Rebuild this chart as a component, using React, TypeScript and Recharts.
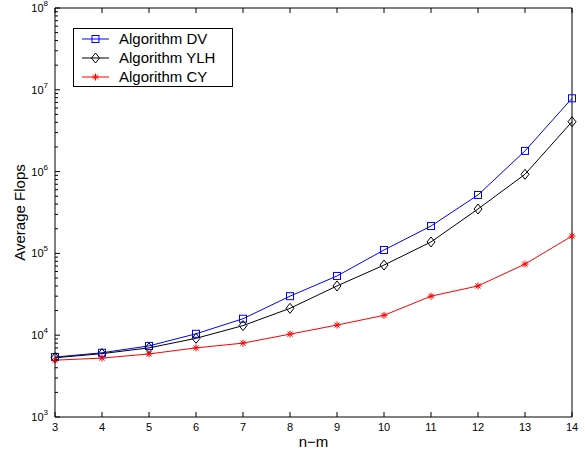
import { Legend, Line, LineChart, XAxis, YAxis } from "recharts";

const FONT = '"Liberation Sans", Arial, Helvetica, sans-serif';

// n-m on the x axis
const nm = [3, 4, 5, 6, 7, 8, 9, 10, 11, 12, 13, 14];
// average flops
const dvFlops = [5400, 6100, 7400, 10400, 15900, 30000, 53000, 110000, 216000, 518000, 1790000, 7870000];
const ylhFlops = [5300, 5950, 7000, 9160, 13100, 21300, 40000, 72000, 138000, 349000, 927000, 4070000];
const cyFlops = [4950, 5250, 5900, 7000, 8000, 10300, 13300, 17500, 30000, 40000, 74000, 163000];

const xTicks = nm;
const decades = [3, 4, 5, 6, 7, 8];
const minorSteps = [1, 2, 3, 4, 5, 6, 7, 8, 9];
const yTicks = decades.flatMap((d) => (d === 8 ? [1e8] : minorSteps.map((m) => m * Math.pow(10, d))));

const rows = nm.map((n, i) => ({ nm: n, dv: dvFlops[i], ylh: ylhFlops[i], cy: cyFlops[i] }));

const series = [
  { key: "dv", name: "Algorithm DV", color: "#0000ff", marker: "square" },
  { key: "ylh", name: "Algorithm YLH", color: "#000000", marker: "diamond" },
  { key: "cy", name: "Algorithm CY", color: "#ff0000", marker: "star" },
];

function Marker({ cx, cy, kind, color }: any) {
  if (cx == null || cy == null) return null;
  if (kind === "square") {
    return <rect x={cx - 3.5} y={cy - 3.5} width={7} height={7} fill="none" stroke={color} strokeWidth={1} />;
  }
  if (kind === "diamond") {
    return (
      <polygon
        points={`${cx},${cy - 5} ${cx + 4},${cy} ${cx},${cy + 5} ${cx - 4},${cy}`}
        fill="none"
        stroke={color}
        strokeWidth={1}
      />
    );
  }
  const r = 3.5;
  const d = 2.5;
  return (
    <g stroke={color} strokeWidth={1}>
      <line x1={cx - r} x2={cx + r} y1={cy} y2={cy} />
      <line x1={cx} x2={cx} y1={cy - r} y2={cy + r} />
      <line x1={cx - d} x2={cx + d} y1={cy - d} y2={cy + d} />
      <line x1={cx - d} x2={cx + d} y1={cy + d} y2={cy - d} />
    </g>
  );
}

function YTick({ x, y, payload, side }: any) {
  const v = payload.value;
  const e = Math.log10(v);
  const major = Math.abs(e - Math.round(e)) < 1e-6;
  const len = major ? 5 : 3;
  const dir = side === "left" ? 1 : -1;
  return (
    <g>
      <line x1={x} x2={x + dir * len} y1={y} y2={y} stroke="#000" strokeWidth={1} />
      {side === "left" && major && (
        <text x={x - 7} y={y + 4} textAnchor="end" fontFamily={FONT} fontSize={11} fill="#000">
          10
          <tspan dy={-6} fontSize={8}>
            {Math.round(e)}
          </tspan>
        </text>
      )}
    </g>
  );
}

function XTick({ x, y, payload, side }: any) {
  const dir = side === "bottom" ? -1 : 1;
  return (
    <g>
      <line x1={x} x2={x} y1={y} y2={y + dir * 5} stroke="#000" strokeWidth={1} />
      {side === "bottom" && (
        <text x={x} y={y + 14} textAnchor="middle" fontFamily={FONT} fontSize={11} fill="#000">
          {payload.value}
        </text>
      )}
    </g>
  );
}

function LegendBox() {
  return (
    <svg width={160} height={60} style={{ display: "block" }}>
      <rect x={0.5} y={0.5} width={159} height={58} fill="#fff" stroke="#000" strokeWidth={1} />
      {series.map((s, i) => {
        const cy = 11 + i * 19;
        return (
          <g key={s.key}>
            <line x1={9} x2={36} y1={cy} y2={cy} stroke={s.color} strokeWidth={1} />
            <Marker cx={22.5} cy={cy} kind={s.marker} color={s.color} />
            <text x={46} y={cy + 5} fontFamily={FONT} fontSize={15} fill="#000">
              {s.name}
            </text>
          </g>
        );
      })}
    </svg>
  );
}

export default function App() {
  return (
    <div style={{ position: "absolute", left: 0, top: 0, width: 585, height: 450, background: "#fff" }}>
      <LineChart width={585} height={450} data={rows} margin={{ top: 0, right: 0, bottom: 0, left: 0 }}>
        <XAxis
          xAxisId="b"
          dataKey="nm"
          type="number"
          domain={[3, 14]}
          ticks={xTicks}
          interval={0}
          height={33}
          tickSize={0}
          tickMargin={0}
          tickLine={false}
          axisLine={{ stroke: "#000" }}
          tick={<XTick side="bottom" />}
          label={{
            value: "n\u2212m",
            content: ({ viewBox }: any) => (
              <text x={viewBox.x + viewBox.width / 2} y={viewBox.y + 30} textAnchor="middle" fontFamily={FONT} fontSize={15} fill="#000">
                n{"\u2212"}m
              </text>
            ),
          }}
        />
        <XAxis
          xAxisId="t"
          orientation="top"
          dataKey="nm"
          type="number"
          domain={[3, 14]}
          ticks={xTicks}
          interval={0}
          height={8}
          tickSize={0}
          tickMargin={0}
          tickLine={false}
          axisLine={{ stroke: "#000" }}
          tick={<XTick side="top" />}
        />
        <YAxis
          yAxisId="l"
          type="number"
          scale="log"
          domain={[1e3, 1e8]}
          ticks={yTicks}
          interval={0}
          width={55}
          tickSize={0}
          tickMargin={0}
          tickLine={false}
          axisLine={{ stroke: "#000" }}
          tick={<YTick side="left" />}
          label={{
            value: "Average Flops",
            content: ({ viewBox }: any) => {
              const cx = viewBox.x + 25;
              const cy = viewBox.y + viewBox.height / 2;
              return (
                <text x={cx} y={cy} textAnchor="middle" transform={`rotate(-90 ${cx} ${cy})`} fontFamily={FONT} fontSize={15} fill="#000">
                  Average Flops
                </text>
              );
            },
          }}
        />
        <YAxis
          yAxisId="r"
          orientation="right"
          type="number"
          scale="log"
          domain={[1e3, 1e8]}
          ticks={yTicks}
          interval={0}
          width={13}
          tickSize={0}
          tickMargin={0}
          tickLine={false}
          axisLine={{ stroke: "#000" }}
          tick={<YTick side="right" />}
        />
        <Legend
          layout="vertical"
          align="center"
          verticalAlign="middle"
          content={() => <LegendBox />}
          wrapperStyle={{ left: 73, top: 28, width: 160, height: 60 }}
        />
        {series.map((s) => (
          <Line
            key={s.key}
            xAxisId="b"
            yAxisId="l"
            dataKey={s.key}
            name={s.name}
            stroke={s.color}
            strokeWidth={1}
            type="linear"
            dot={(p: any) => <Marker key={`${s.key}-${p.index}`} cx={p.cx} cy={p.cy} kind={s.marker} color={s.color} />}
            activeDot={false}
            isAnimationActive={false}
          />
        ))}
      </LineChart>
    </div>
  );
}
